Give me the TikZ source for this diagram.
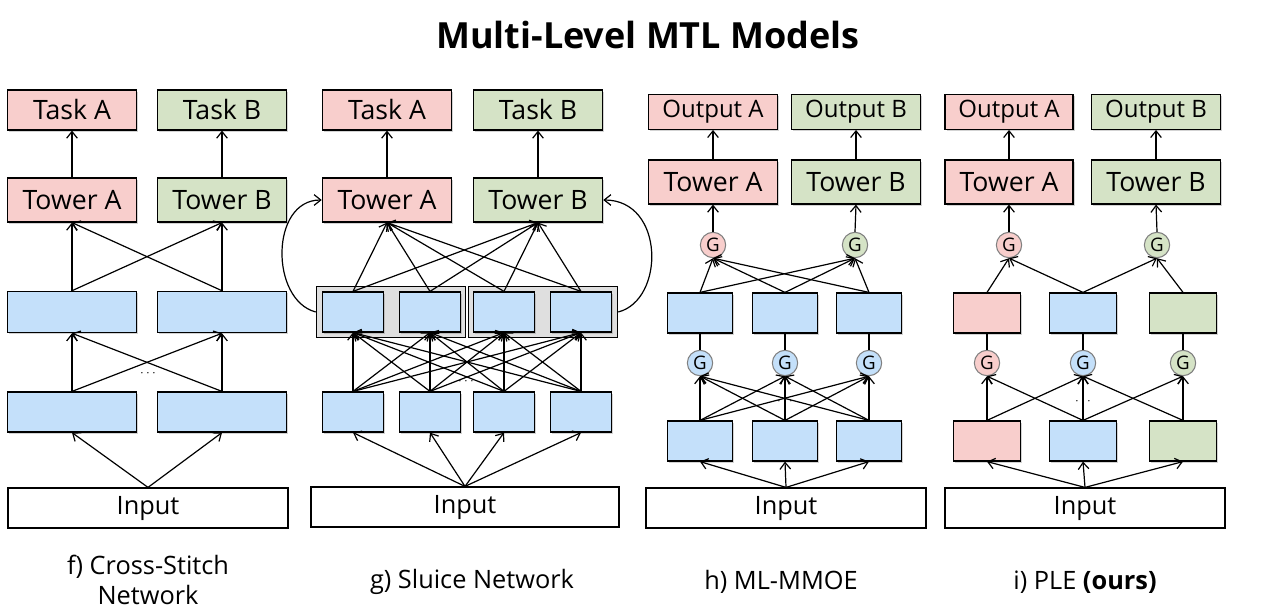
\documentclass[tikz,border=0pt]{standalone}
\usepackage{fontspec}
\setmainfont{Open Sans}
\usetikzlibrary{arrows.meta,shadows}
\definecolor{pk}{HTML}{F8CECC}
\definecolor{gr}{HTML}{D5E3C6}
\definecolor{bl}{HTML}{C4E0FA}
\begin{document}
\begin{tikzpicture}[x=0.75pt,y=-0.75pt,
  box/.style={draw,line width=0.9pt,inner sep=0pt,drop shadow={shadow xshift=1.2pt,shadow yshift=-1.2pt,opacity=0.35}},
  lbl/.style={font=\fontsize{20}{22}\selectfont},
  outl/.style={font=\fontsize{18}{20}\selectfont},
  g/.style={circle,draw=gray,line width=0.8pt,minimum size=19pt,inner sep=0pt,font=\fontsize{14}{14}\selectfont},
  arr/.style={-{Straight Barb[length=5pt,width=8pt]},line width=0.9pt},
  ln/.style={line width=0.9pt},
  inp/.style={draw,line width=0.9pt,font=\fontsize{19}{20}\selectfont,inner sep=0pt}]
\useasboundingbox (0,0) rectangle (1280,616);
\node[font=\bfseries\fontsize{27}{30}\selectfont] (title) at (648,35) {Multi-Level MTL Models};
% ---------- f) Cross-stitch
\node[inp,minimum width=210pt,minimum height=30pt] (fin) at (148,508) {Input};
\node[box,fill=bl,minimum width=97pt,minimum height=30pt] (fb1) at (72,412) {};
\node[box,fill=bl,minimum width=97pt,minimum height=30pt] (fb2) at (222,412) {};
\node[box,fill=bl,minimum width=97pt,minimum height=31pt] (fm1) at (72,312) {};
\node[box,fill=bl,minimum width=97pt,minimum height=31pt] (fm2) at (222,312) {};
\node[box,fill=pk,lbl,minimum width=97pt,minimum height=33pt] (ft1) at (72,200) {Tower A};
\node[box,fill=gr,lbl,minimum width=97pt,minimum height=33pt] (ft2) at (222,200) {Tower B};
\node[box,fill=pk,lbl,minimum width=97pt,minimum height=30pt] (fk1) at (72,110) {Task A};
\node[box,fill=gr,lbl,minimum width=97pt,minimum height=30pt] (fk2) at (222,110) {Task B};
\draw[arr] (fin.north) -- (fb1.south); \draw[arr] (fin.north) -- (fb2.south);
\foreach \a in {1,2}{\foreach \b in {1,2}{
  \draw[arr] (fb\a.north) -- (fm\b.south);
  \draw[arr] (fm\a.north) -- (ft\b.south);}
  \draw[arr] (ft\a.north) -- (fk\a.south);}
\node (fd) at (148,374) {$\cdots$};
\node[font=\fontsize{19}{22}\selectfont,align=center] (fc) at (148,580) {f) Cross-Stitch\\Network};
% ---------- g) Sluice
\node[inp,minimum width=231pt,minimum height=30pt] (gin) at (465,507) {Input};
\node[draw,line width=0.9pt,fill=gray!25,minimum width=112pt,minimum height=38pt] (ge1) at (391,312) {};
\node[draw,line width=0.9pt,fill=gray!25,minimum width=112pt,minimum height=38pt] (ge2) at (543,312) {};
\foreach \i/\x in {1/353,2/430,3/504,4/581}{
  \node[box,fill=bl,minimum width=46pt,minimum height=30pt] (gb\i) at (\x,412) {};
  \node[box,fill=bl,minimum width=46pt,minimum height=30pt] (gm\i) at (\x,312) {};
  \draw[arr] (gin.north) -- (gb\i.south);}
\foreach \a in {1,...,4}{\foreach \b in {1,...,4}{\draw[arr] (gb\a.north) -- (gm\b.south);}}
\node[box,fill=pk,lbl,minimum width=97pt,minimum height=33pt] (gt1) at (387,200) {Tower A};
\node[box,fill=gr,lbl,minimum width=97pt,minimum height=33pt] (gt2) at (538,200) {Tower B};
\node[box,fill=pk,lbl,minimum width=97pt,minimum height=30pt] (gk1) at (387,110) {Task A};
\node[box,fill=gr,lbl,minimum width=97pt,minimum height=30pt] (gk2) at (538,110) {Task B};
\foreach \a in {1,...,4}{\foreach \b in {1,2}{\draw[arr] (gm\a.north) -- (gt\b.south);}}
\draw[arr] (gt1.north) -- (gk1.south); \draw[arr] (gt2.north) -- (gk2.south);
\draw[arr] (ge1.west) .. controls (270,300) and (270,200) .. (gt1.west);
\draw[arr] (ge2.east) .. controls (665,300) and (665,200) .. (gt2.east);
\node (gd) at (466,382) {$\cdots$};
\node[font=\fontsize{19}{22}\selectfont] (gc) at (472,582) {g) Sluice Network};
% ---------- h) ML-MMOE
\node[inp,minimum width=210pt,minimum height=30pt] (hin) at (786,508) {Input};
\foreach \i/\x in {1/700,2/785,3/869}{
  \node[box,fill=bl,minimum width=49pt,minimum height=30pt] (hb\i) at (\x,441) {};
  \node[box,fill=bl,minimum width=49pt,minimum height=30pt] (hm\i) at (\x,313) {};
  \node[g,fill=bl] (hg\i) at (\x,363) {G};
  \draw[arr] (hin.north) -- (hb\i.south);
  \draw[ln] (hg\i.north) -- (hm\i.south);}
\foreach \a in {1,2,3}{\foreach \b in {1,2,3}{\draw[arr] (hb\a.north) -- (hg\b.south);}}
\node[g,fill=pk] (hu1) at (713,245) {G};
\node[g,fill=gr] (hu2) at (855,245) {G};
\foreach \a in {1,2,3}{\foreach \b in {1,2}{\draw[arr] (hm\a.north) -- (hu\b.south);}}
\node[box,fill=pk,lbl,minimum width=97pt,minimum height=33pt] (ht1) at (713,182) {Tower A};
\node[box,fill=gr,lbl,minimum width=97pt,minimum height=33pt] (ht2) at (856,182) {Tower B};
\node[box,fill=pk,outl,minimum width=97pt,minimum height=26pt] (hk1) at (713,112) {Output A};
\node[box,fill=gr,outl,minimum width=97pt,minimum height=26pt] (hk2) at (856,112) {Output B};
\foreach \i in {1,2}{\draw[arr] (hu\i.north) -- (ht\i.south); \draw[arr] (ht\i.north) -- (hk\i.south);}
\node (hd) at (785,402) {$\cdots$};
\node[font=\fontsize{19}{22}\selectfont] (hc) at (781,582) {h) ML-MMOE};
% ---------- i) PLE
\node[inp,minimum width=210pt,minimum height=30pt] (iin) at (1085,508) {Input};
\foreach \i/\x/\c in {1/987/pk,2/1083/bl,3/1183/gr}{
  \node[box,fill=\c,minimum width=50pt,minimum height=30pt] (ib\i) at (\x,441) {};
  \node[box,fill=\c,minimum width=50pt,minimum height=30pt] (im\i) at (\x,313) {};
  \node[g,fill=\c] (ig\i) at (\x,363) {G};
  \draw[arr] (iin.north) -- (ib\i.south);
  \draw[ln] (ig\i.north) -- (im\i.south);}
\foreach \a/\b in {1/1,1/2,2/1,2/2,2/3,3/2,3/3}{\draw[arr] (ib\a.north) -- (ig\b.south);}
\node[g,fill=pk] (iu1) at (1009,245) {G};
\node[g,fill=gr] (iu2) at (1157,245) {G};
\foreach \a/\b in {1/1,2/1,2/2,3/2}{\draw[arr] (im\a.north) -- (iu\b.south);}
\node[box,fill=pk,lbl,minimum width=96pt,minimum height=33pt] (it1) at (1009,182) {Tower A};
\node[box,fill=gr,lbl,minimum width=97pt,minimum height=33pt] (it2) at (1156,182) {Tower B};
\node[box,fill=pk,outl,minimum width=96pt,minimum height=26pt] (ik1) at (1009,112) {Output A};
\node[box,fill=gr,outl,minimum width=97pt,minimum height=26pt] (ik2) at (1156,112) {Output B};
\foreach \i in {1,2}{\draw[arr] (iu\i.north) -- (it\i.south); \draw[arr] (it\i.north) -- (ik\i.south);}
\node (id) at (1083,402) {$\cdots$};
\node[font=\fontsize{19}{22}\selectfont] (ic) at (1085,582) {i) PLE \textbf{(ours)}};
\end{tikzpicture}
\end{document}
